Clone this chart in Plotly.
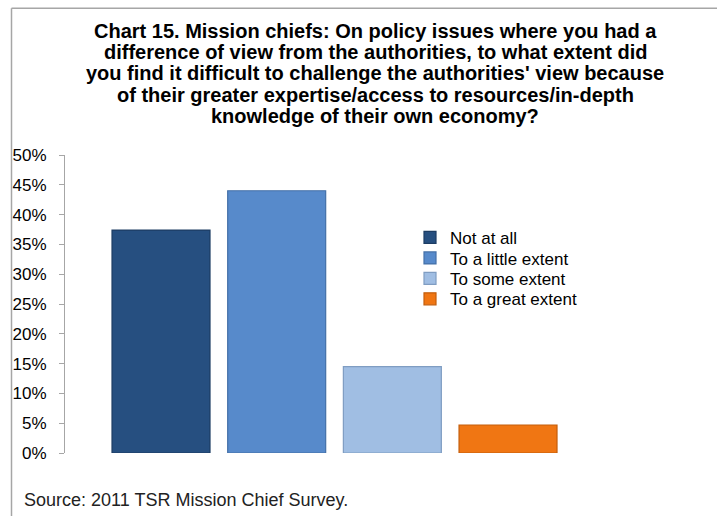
import plotly.graph_objects as go

# Survey responses (share of mission chiefs, %)
categories = ["Not at all", "To a little extent", "To some extent", "To a great extent"]
shares = [37.4, 44.0, 14.5, 4.7]
colors = ["#264F80", "#578ACB", "#A0BEE3", "#F07613"]
edge_colors = ["#1C3C63", "#4470A8", "#7F9DC2", "#C45E0C"]

y_ticks = list(range(0, 55, 5))
y_tick_labels = [f"{t}%" for t in y_ticks]

title_lines = [
    "Chart 15. Mission chiefs: On policy issues where you had a",
    "difference of view from the authorities, to what extent did",
    "you find it difficult to challenge the authorities' view because",
    "of their greater expertise/access to resources/in-depth",
    "knowledge of their own economy?",
]
source_text = "Source: 2011 TSR Mission Chief Survey."

W, H = 717, 516
m_l, m_r, m_t, m_b = 65, 97, 155, 62.5
plot_w = W - m_l - m_r
plot_h = H - m_t - m_b


def px_to_paper_x(px):
    return (px - m_l) / plot_w


def px_to_paper_y(py):
    return (H - m_b - py) / plot_h


# one compact legend block per series so the rows sit close together
legend_names = ["legend", "legend2", "legend3", "legend4"]
legend_rows = [238, 258.5, 279, 299.5]

fig = go.Figure()
for i, (cat, val) in enumerate(zip(categories, shares)):
    fig.add_trace(
        go.Bar(
            x=[i],
            y=[val],
            name=cat,
            width=0.847,
            legend=legend_names[i],
            marker=dict(color=colors[i], line=dict(color=edge_colors[i], width=1.2)),
            hoverinfo="name+y",
        )
    )

legend_layout = {}
for name, row in zip(legend_names, legend_rows):
    legend_layout[name] = dict(
        x=px_to_paper_x(410),
        y=px_to_paper_y(row),
        xanchor="left",
        yanchor="middle",
        font=dict(size=17, color="black"),
        bgcolor="rgba(0,0,0,0)",
        itemwidth=30,
        borderwidth=0,
    )

title_rows = [30.5, 51.8, 73.1, 94.4, 115.7]
annotations = [
    dict(
        text=f"<b>{line}</b>",
        x=px_to_paper_x(375),
        y=px_to_paper_y(row),
        xref="paper",
        yref="paper",
        xanchor="center",
        yanchor="middle",
        showarrow=False,
        font=dict(size=20, color="black"),
    )
    for line, row in zip(title_lines, title_rows)
]
annotations.append(
    dict(
        text=source_text,
        x=px_to_paper_x(22),
        y=px_to_paper_y(501),
        xref="paper",
        yref="paper",
        xanchor="left",
        yanchor="middle",
        showarrow=False,
        align="left",
        font=dict(size=18, color="#222222"),
    )
)

fig.update_layout(
    width=W,
    height=H,
    margin=dict(l=m_l, r=m_r, t=m_t, b=m_b, autoexpand=False),
    paper_bgcolor="white",
    plot_bgcolor="white",
    barmode="overlay",
    font=dict(family="Liberation Sans, Arial, sans-serif", color="black"),
    showlegend=True,
    xaxis=dict(
        range=[-0.83, 3 + (620 - 508) / 115.7],
        showticklabels=False,
        showgrid=False,
        zeroline=False,
        showline=False,
        ticks="",
    ),
    yaxis=dict(
        range=[0, 50],
        tickvals=y_ticks,
        ticktext=y_tick_labels,
        tickfont=dict(size=17, color="black"),
        showgrid=False,
        zeroline=False,
        showline=True,
        linecolor="#A6A6A6",
        linewidth=1,
        ticks="outside",
        ticklen=5,
        tickcolor="#A6A6A6",
        ticklabelstandoff=9,
    ),
    annotations=annotations,
    shapes=[
        # outer frame: left and top edges
        dict(
            type="line",
            xref="paper",
            yref="paper",
            x0=px_to_paper_x(11.5),
            x1=px_to_paper_x(11.5),
            y0=px_to_paper_y(8),
            y1=px_to_paper_y(H + 2),
            line=dict(color="#A6A6A6", width=1.5),
        ),
        dict(
            type="line",
            xref="paper",
            yref="paper",
            x0=px_to_paper_x(11.5),
            x1=px_to_paper_x(W + 2),
            y0=px_to_paper_y(8),
            y1=px_to_paper_y(8),
            line=dict(color="#A6A6A6", width=1.5),
        ),
    ],
    **legend_layout,
)

fig.write_html("out.html")
